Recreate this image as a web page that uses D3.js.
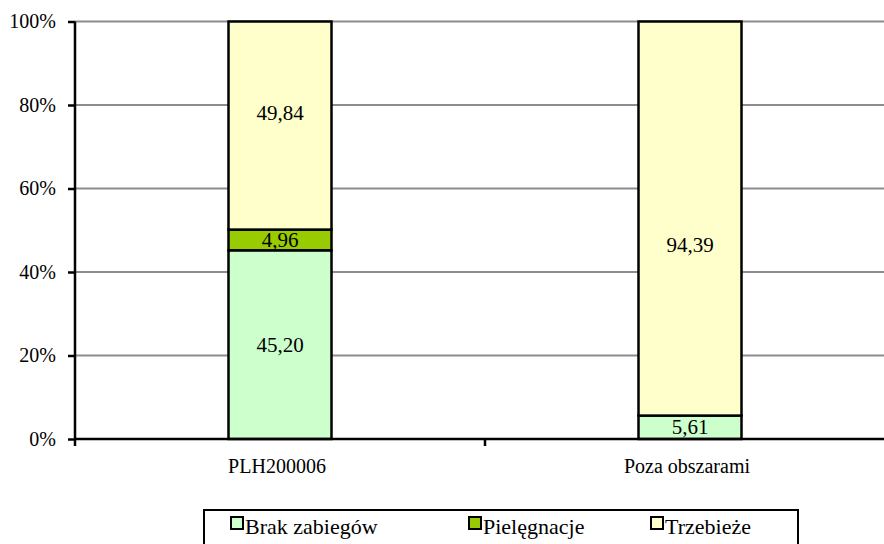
<!DOCTYPE html>
<html><head><meta charset="utf-8">
<script src="https://cdn.jsdelivr.net/npm/d3@7"></script>
</head><body style="margin:0;background:#fff"><svg id="c" width="884" height="544" font-family="Liberation Serif" style="display:block"></svg>
<script>
const categories = ["PLH200006", "Poza obszarami"];
const seriesNames = ["Brak zabiegów", "Pielęgnacje", "Trzebieże"];
const brak = [45.20, 5.61];
const pielegnacje = [4.96, 0];
const trzebieze = [49.84, 94.39];
const colors = ["#CCFFCC", "#99CC00", "#FFFFCC"];
const yTicks = [0, 20, 40, 60, 80, 100];
// label nudges (px) per series/category, as in the original chart
const labelShift = [[0, 0], [0, 0], [-13, 26]];

const FONT = "Liberation Serif";
const svg = d3.select("#c");
const pLeft = 75, pRight = 895, pTop = 21.5, pBottom = 439;
const x = d3.scaleBand().domain(categories).range([pLeft, pRight]);
const y = d3.scaleLinear().domain([0, 100]).range([pBottom, pTop]);
const fmt = v => v.toFixed(2).replace(".", ",");

// gridlines
svg.append("g").selectAll("line").data(yTicks.filter(d => d > 0)).join("line")
  .attr("x1", pLeft).attr("x2", 884).attr("y1", d => y(d)).attr("y2", d => y(d))
  .attr("stroke", "#8c8c8c").attr("stroke-width", 2);

const rows = categories.map((c, i) => ({cat: c, "Brak zabiegów": brak[i], "Pielęgnacje": pielegnacje[i], "Trzebieże": trzebieze[i]}));
const stack = d3.stack().keys(seriesNames)(rows);
const bw = 103;
stack.forEach((s, si) => {
  s.forEach((d, i) => {
    const v = d[1] - d[0];
    if (v <= 0) return;
    const cx = x(categories[i]) + x.bandwidth() / 2;
    svg.append("rect").attr("x", cx - bw / 2).attr("width", bw)
      .attr("y", y(d[1])).attr("height", y(d[0]) - y(d[1]))
      .attr("fill", colors[si]).attr("stroke", "#000").attr("stroke-width", 2.5);
    svg.append("text").attr("x", cx).attr("y", (y(d[0]) + y(d[1])) / 2 + 7 + labelShift[si][i])
      .attr("text-anchor", "middle").attr("font-family", FONT)
      .style("font-family", `"${FONT}"`).attr("font-size", 21).attr("fill", "#000")
      .text(fmt(v));
  });
});

// y axis
const ya = svg.append("g").attr("transform", `translate(${pLeft},0)`)
  .call(d3.axisLeft(y).tickValues(yTicks).tickFormat(d => d + "%").tickSize(7).tickPadding(12));
ya.attr("font-family", FONT).attr("font-size", 20);
ya.select(".domain").attr("stroke", "#000").attr("stroke-width", 2.5).attr("d", `M0,${pTop}V${pBottom + 7}`);
ya.selectAll(".tick line").attr("stroke", "#000").attr("stroke-width", 2.5);
ya.selectAll(".tick text").attr("font-family", FONT).style("font-family", `"${FONT}"`).attr("font-size", 20).attr("fill", "#000");

// x axis
svg.append("line").attr("x1", pLeft).attr("x2", 884).attr("y1", pBottom).attr("y2", pBottom).attr("stroke", "#000").attr("stroke-width", 2.5);
svg.selectAll("line.t").data([pLeft + x.bandwidth()]).join("line").attr("class", "t")
  .attr("x1", d => d).attr("x2", d => d).attr("y1", pBottom).attr("y2", pBottom + 7).attr("stroke", "#000").attr("stroke-width", 2.5);
svg.selectAll("text.cat").data(categories).join("text").attr("class", "cat")
  .attr("x", d => x(d) + x.bandwidth() / 2 - 3).attr("y", pBottom + 34)
  .attr("text-anchor", "middle").attr("font-family", FONT).style("font-family", `"${FONT}"`).attr("font-size", 20).attr("fill", "#000").text(d => d);

// legend
svg.append("rect").attr("x", 204).attr("y", 510).attr("width", 594).attr("height", 40)
  .attr("fill", "#fff").attr("stroke", "#000").attr("stroke-width", 2);
const lx = [231, 469, 651];
seriesNames.forEach((n, i) => {
  svg.append("rect").attr("x", lx[i]).attr("y", 517).attr("width", 12).attr("height", 12)
    .attr("fill", colors[i]).attr("stroke", "#000").attr("stroke-width", 2);
  svg.append("text").attr("x", lx[i] + 14).attr("y", 534).attr("font-family", FONT).style("font-family", `"${FONT}"`).attr("font-size", 22).attr("fill", "#000").text(n);
});
</script></body></html>
